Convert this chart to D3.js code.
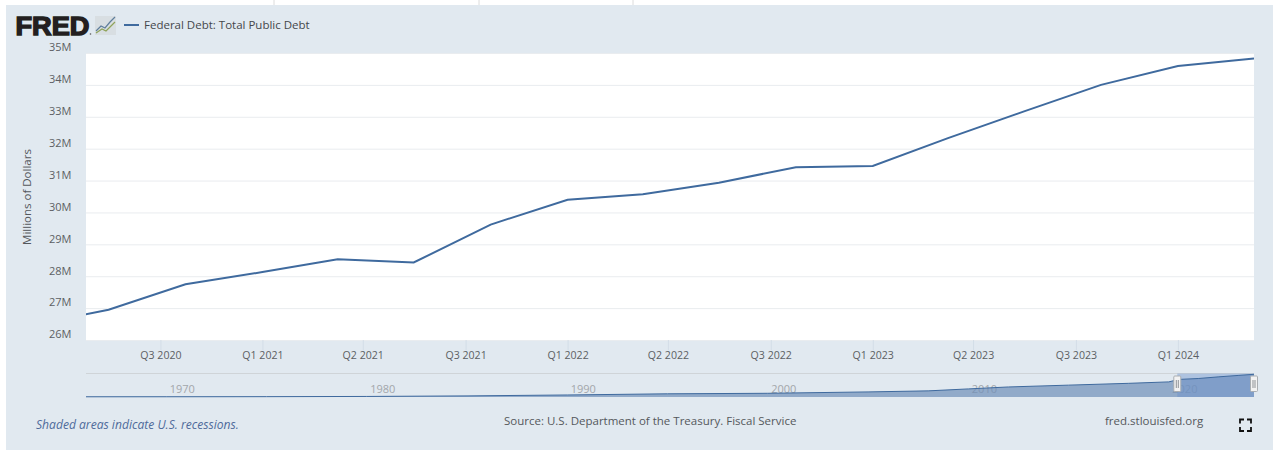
<html>
    <head>
        <script src="https://d3js.org/d3.v7.min.js"></script>
        <style>
            html, body { margin: 0; background: #fff; overflow: hidden; }
            svg { display: block; font-family: "Open Sans", sans-serif; }
            .y-axis, .x-axis, .nav-axis { font-family: "Open Sans", sans-serif; }
            .y-axis path, .x-axis path, .nav-axis path { display: none; }
            .y-axis line { stroke: #e9ecef; }
            .x-axis line { stroke: #d3dde7; }
            .nav-axis line { display: none; }
            .y-axis text { font-size: 11px; fill: #5c5f63; }
            .x-axis text { font-size: 10.6px; fill: #5c5f63; }
            .nav-axis text { font-size: 11px; fill: #a3a7ab; }
            .note { font-size: 11.5px; fill: #55585c; }
        </style>
    </head>
    <body>
        <div id="chart"></div>
        <script>
        var quarters = ["2020-04-01", "2020-07-01", "2020-10-01", "2021-01-01", "2021-04-01", "2021-07-01",
            "2021-10-01", "2022-01-01", "2022-04-01", "2022-07-01", "2022-10-01", "2023-01-01",
            "2023-04-01", "2023-07-01", "2023-10-01", "2024-01-01", "2024-04-01"];
        var debt = [26.48, 26.95, 27.75, 28.13, 28.53, 28.43, 29.62, 30.40, 30.57, 30.93, 31.42, 31.46,
            32.33, 33.17, 34.00, 34.59, 34.83];

        // long history for the navigator
        var navDates = ["1966-01-01", "1970-01-01", "1975-01-01", "1980-01-01", "1985-01-01", "1990-01-01",
            "1995-01-01", "2000-01-01", "2005-01-01", "2008-01-01", "2010-01-01", "2012-01-01",
            "2015-01-01", "2018-01-01", "2020-01-01", "2020-07-01", "2021-07-01", "2022-07-01",
            "2023-07-01", "2024-04-01"];
        var navDebt = [0.32, 0.37, 0.51, 0.85, 1.7, 3.1, 4.9, 5.7, 7.8, 9.4, 12.4, 15.4,
            18.2, 21.0, 23.2, 26.95, 28.43, 30.93, 33.17, 34.83];

        var yTicks = [26, 27, 28, 29, 30, 31, 32, 33, 34, 35];
        var xTickDates = ["2020-09-01", "2021-01-01", "2021-05-01", "2021-09-01", "2022-01-01", "2022-05-01",
            "2022-09-01", "2023-01-01", "2023-05-01", "2023-09-01", "2024-01-01"];
        var xTickLabels = ["Q3 2020", "Q1 2021", "Q2 2021", "Q3 2021", "Q1 2022", "Q2 2022",
            "Q3 2022", "Q1 2023", "Q2 2023", "Q3 2023", "Q1 2024"];
        var navTickYears = [1970, 1980, 1990, 2000, 2010, 2020];

        var width = 1280, height = 455;
        var plotLeft = 86, plotRight = 1254, plotTop = 53, plotBottom = 340;
        var navTop = 374.3, navBottom = 397;
        var lineColor = "#3f6a9e";

        var parseDate = d3.timeParse("%Y-%m-%d");

        /* Scale */
        var xScale = d3.scaleTime()
            .domain([parseDate("2020-06-04"), parseDate("2024-04-01")])
            .range([plotLeft, plotRight]);
        var yScale = d3.scaleLinear().domain([26, 35]).range([plotBottom, plotTop]);
        var navX = d3.scaleTime()
            .domain([parseDate("1966-01-01"), parseDate("2024-04-01")])
            .range([plotLeft, plotRight]);
        var navY = d3.scaleLinear().domain([0, 34.83]).range([navBottom, navTop]);

        var svg = d3.select("#chart").append("svg")
            .attr("width", width)
            .attr("height", height);

        /* Page behind the panel */
        [274, 479, 633].forEach(function(x) {
            svg.append("line").attr("x1", x).attr("x2", x).attr("y1", 0).attr("y2", 5).attr("stroke", "#dcdcdc");
        });
        svg.append("rect").attr("x", 6).attr("y", 5).attr("width", 1267).attr("height", 445).attr("fill", "#e1e9f0");
        svg.append("rect").attr("x", plotLeft).attr("y", plotTop).attr("width", plotRight - plotLeft).attr("height", plotBottom - plotTop).attr("fill", "#fff");

        /* Logo */
        svg.append("text").attr("x", 15.5).attr("y", 35)
            .attr("textLength", 74).attr("lengthAdjust", "spacingAndGlyphs")
            .style("font-family", "'Liberation Sans', sans-serif")
            .style("font-weight", "bold").style("font-size", "26px")
            .attr("fill", "#231f20").attr("stroke", "#231f20").attr("stroke-width", 1.4)
            .text("FRED");
        svg.append("circle").attr("cx", 90.5).attr("cy", 34).attr("r", 0.8).attr("fill", "#555");
        svg.append("rect").attr("x", 95).attr("y", 16).attr("width", 21).attr("height", 19).attr("fill", "#d8dee2");
        svg.append("path").attr("d", "M96 31L101 26L105 28L110 22L115 17").attr("fill", "none").attr("stroke", "#5f7e9c").attr("stroke-width", 1.2);
        svg.append("path").attr("d", "M96 33L102 29L106 31L111 26L115 22").attr("fill", "none").attr("stroke", "#8fa35a").attr("stroke-width", 1.2);

        /* Legend */
        svg.append("line").attr("x1", 124).attr("x2", 139).attr("y1", 25).attr("y2", 25)
            .attr("stroke", lineColor).attr("stroke-width", 2);
        svg.append("text").attr("class", "note").attr("x", 144).attr("y", 29).style("fill", "#44474b").text("Federal Debt: Total Public Debt");

        /* Axes */
        var yAxis = d3.axisLeft(yScale)
            .tickValues(yTicks)
            .tickSize(-(plotRight - plotLeft))
            .tickPadding(14.5)
            .tickFormat(function(d) { return d + "M"; });
        svg.append("g").attr("class", "y-axis")
            .attr("transform", "translate(" + plotLeft + ",0)")
            .call(yAxis)
            .selectAll("text").attr("dy", "-0.2em");

        var xAxis = d3.axisBottom(xScale)
            .tickValues(xTickDates.map(parseDate))
            .tickSize(10)
            .tickPadding(1.5)
            .tickFormat(function(d, i) { return xTickLabels[i]; });
        svg.append("g").attr("class", "x-axis")
            .attr("transform", "translate(0," + plotBottom + ")")
            .call(xAxis);

        svg.append("text").attr("class", "note")
            .attr("transform", "translate(31,197) rotate(-90)")
            .attr("text-anchor", "middle")
            .text("Millions of Dollars");

        /* Line */
        svg.append("clipPath").attr("id", "plot-clip").append("rect")
            .attr("x", plotLeft).attr("y", plotTop).attr("width", plotRight - plotLeft).attr("height", plotBottom - plotTop);
        var line = d3.line()
            .x(function(d, i) { return xScale(parseDate(quarters[i])); })
            .y(function(d) { return yScale(d); });
        svg.append("path").datum(debt)
            .attr("clip-path", "url(#plot-clip)")
            .attr("d", line)
            .attr("fill", "none")
            .attr("stroke", lineColor)
            .attr("stroke-width", 2);

        /* Navigator */
        svg.append("line").attr("x1", plotLeft).attr("x2", plotRight).attr("y1", 373.5).attr("y2", 373.5).attr("stroke", "#cfd4d8");

        var navAxis = d3.axisBottom(navX)
            .tickValues(navTickYears.map(function(y) { return parseDate(y + "-01-01"); }))
            .tickSize(0)
            .tickFormat(d3.timeFormat("%Y"));
        svg.append("g").attr("class", "nav-axis")
            .attr("transform", "translate(0,382)")
            .call(navAxis)
            .selectAll("text").attr("x", 3).attr("text-anchor", "start");

        var navArea = d3.area()
            .x(function(d, i) { return navX(parseDate(navDates[i])); })
            .y0(navBottom)
            .y1(function(d) { return navY(d); });
        var navLine = d3.line()
            .x(function(d, i) { return navX(parseDate(navDates[i])); })
            .y(function(d) { return navY(d); });
        svg.append("path").datum(navDebt).attr("d", navArea).attr("fill", "#6f8fb8").attr("fill-opacity", 0.7);
        var selStart = navX(parseDate("2020-06-04"));
        svg.append("rect").attr("x", selStart).attr("y", 373.5).attr("width", plotRight - selStart).attr("height", navBottom - 373.5)
            .attr("fill", "#6a8fcb").attr("fill-opacity", 0.42);
        svg.append("path").datum(navDebt).attr("d", navLine).attr("fill", "none").attr("stroke", lineColor).attr("stroke-width", 1);

        // handles
        [selStart, plotRight].forEach(function(x) {
            svg.append("rect").attr("x", x - 3.5).attr("y", 376).attr("width", 7).attr("height", 15.5).attr("rx", 1)
                .attr("fill", "#f2f2f2").attr("stroke", "#a9adb1");
            svg.append("path").attr("d", "M" + (x - 1) + " 380V388M" + (x + 1) + " 380V388").attr("stroke", "#8f9397");
        });

        /* Footer */
        svg.append("text").attr("x", 36).attr("y", 429)
            .style("font-size", "12.1px").style("font-style", "italic").attr("fill", "#4f6b9b")
            .text("Shaded areas indicate U.S. recessions.");
        svg.append("text").attr("class", "note").attr("x", 504).attr("y", 425).text("Source: U.S. Department of the Treasury. Fiscal Service");
        svg.append("text").attr("class", "note").attr("x", 1105).attr("y", 425).text("fred.stlouisfed.org");

        // fullscreen icon
        svg.append("path")
            .attr("d", "M1240 423.5V419.5H1244M1247 419.5H1251V423.5M1240 427V431H1244M1247 431H1251V427")
            .attr("fill", "none").attr("stroke", "#111").attr("stroke-width", 1.8);
    </script>
  </body>
</html>
